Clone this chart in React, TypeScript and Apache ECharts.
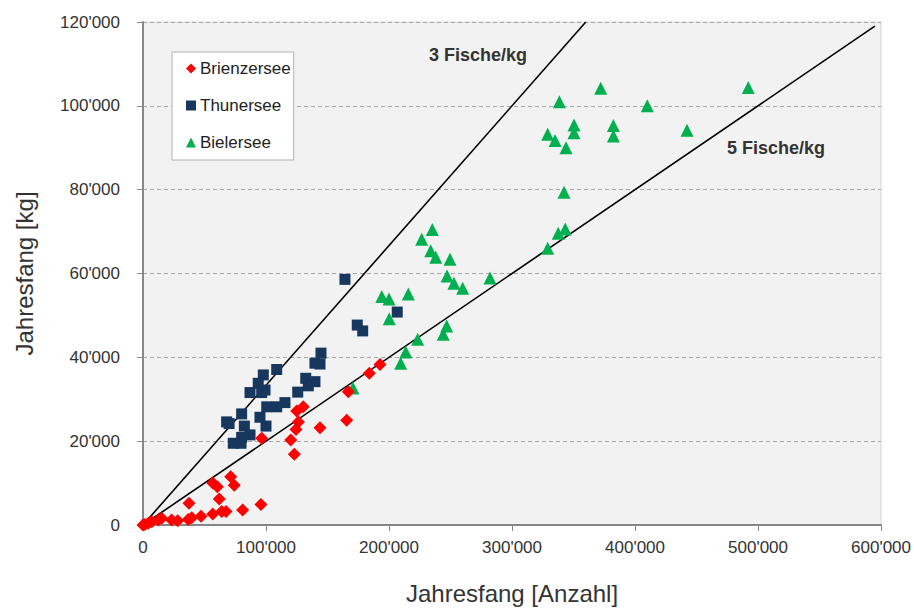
import React, { useEffect, useRef } from "react";
import * as echarts from "echarts";

const brienzersee: number[][] = [
  [96500, 20700], [125000, 27200], [130300, 28200], [126300, 24600], [124400, 22800],
  [143900, 23200], [120100, 20300], [123000, 16900], [165600, 25000], [166900, 31800],
  [184000, 36200], [192700, 38300], [71300, 11500], [56700, 10000], [60400, 9100],
  [74200, 9500], [62000, 6200], [37400, 5200], [95900, 4900], [81000, 3600],
  [67500, 3200], [64000, 3200], [56700, 2600], [47200, 2100], [39600, 1700],
  [36800, 1300], [28200, 1000], [23300, 1200], [15200, 1600], [12400, 1200],
  [7100, 800], [4300, 400], [1600, 100], [0, 0],
];

const thunersee: number[][] = [
  [144700, 41000], [139800, 38600], [143900, 38400], [108700, 37100], [97800, 35800],
  [132300, 35000], [139800, 34200], [134400, 33200], [93700, 33800], [99200, 32200],
  [87000, 31600], [96500, 31600], [125800, 31700], [115400, 29200], [108700, 28200],
  [100600, 28200], [80200, 26500], [95100, 25700], [68000, 24600], [70000, 24200],
  [82400, 23600], [100000, 23600], [87000, 21500], [80200, 20900], [73400, 19500],
  [79700, 19500], [164200, 58600], [206700, 50800], [174200, 47700], [178600, 46300],
];

const bielersee: number[][] = [
  [235200, 70500], [226600, 68200], [233900, 65400], [238000, 63900], [249600, 63400],
  [247200, 59400], [252800, 57700], [259900, 56500], [282100, 58900], [194100, 54500],
  [200000, 53900], [215700, 55100], [200200, 49200], [246900, 47500], [244100, 45500],
  [223300, 44300], [213600, 41300], [209500, 38600], [170700, 32700], [372100, 104200],
  [492100, 104400], [338500, 101000], [410000, 100000], [350400, 95400], [350400, 93600],
  [382400, 95300], [382400, 92800], [329000, 93200], [335000, 91700], [343900, 90000],
  [442300, 94200], [342300, 79400], [337600, 69600], [343300, 70600], [329000, 66000],
];

const line3: number[][] = [[0, 0], [360000, 120000]];
const line5: number[][] = [[0, 0], [595000, 119000]];

const xTicks = { min: 0, max: 600000, interval: 100000 };
const yTicks = { min: 0, max: 120000, interval: 20000 };

const fmt = (v: number) => {
  if (v === 0) return "0";
  return String(v).replace(/\B(?=(\d{3})+(?!\d))/g, "'");
};

const FONT = "'Liberation Sans', Arial, sans-serif";

export default function App() {
  const ref = useRef<HTMLDivElement>(null);
  useEffect(() => {
    if (!ref.current) return;
    const chart = echarts.init(ref.current, undefined, { renderer: "svg" });
    chart.setOption({
      animation: false,
      textStyle: { fontFamily: FONT },
      grid: {
        left: 143, right: 33, top: 22, bottom: 86,
        show: true, backgroundColor: "#f2f2f2", borderColor: "#d9d9d9", borderWidth: 1,
      },
      legend: {
        left: 172, top: 52, orient: "vertical",
        backgroundColor: "#ffffff", borderColor: "#b3b3b3", borderWidth: 1,
        padding: [8, 3, 9, 14], itemGap: 20, itemWidth: 10, itemHeight: 10,
        textStyle: { fontSize: 17, color: "#222", fontFamily: FONT, padding: [0, 0, 0, -1] },
        data: [
          { name: "Brienzersee", icon: "diamond" },
          { name: "Thunersee", icon: "rect" },
          { name: "Bielersee", icon: "triangle" },
        ],
      },
      xAxis: {
        type: "value", ...xTicks,
        name: "Jahresfang [Anzahl]", nameLocation: "middle", nameGap: 56,
        nameTextStyle: { fontSize: 24, color: "#333", fontFamily: FONT },
        axisLine: { show: true, lineStyle: { color: "#878787", width: 2 } },
        axisTick: { show: true, length: 6, lineStyle: { color: "#878787" } },
        axisLabel: { formatter: fmt, fontSize: 17, color: "#333", margin: 14, fontFamily: FONT },
        splitLine: { show: false },
      },
      yAxis: {
        type: "value", ...yTicks,
        name: "Jahresfang [kg]", nameLocation: "middle", nameGap: 107,
        nameTextStyle: { fontSize: 24, color: "#333", fontFamily: FONT },
        axisLine: { show: true, lineStyle: { color: "#878787", width: 2 } },
        axisTick: { show: true, length: 6, lineStyle: { color: "#878787" } },
        axisLabel: { formatter: fmt, fontSize: 17, color: "#333", margin: 23, fontFamily: FONT },
        splitLine: { show: true, lineStyle: { color: "#a6a6a6", type: [4, 3] } },
      },
      series: [
        {
          name: "3 Fische/kg", type: "line", data: line3, symbol: "none",
          lineStyle: { color: "#000", width: 1.6 }, silent: true, z: 1,
        },
        {
          name: "5 Fische/kg", type: "line", data: line5, symbol: "none",
          lineStyle: { color: "#000", width: 1.6 }, silent: true, z: 1,
        },
        {
          name: "Brienzersee", type: "scatter", data: brienzersee, symbol: "diamond",
          symbolSize: 13, itemStyle: { color: "#ff0000", opacity: 1 }, z: 3,
        },
        {
          name: "Thunersee", type: "scatter", data: thunersee, symbol: "rect",
          symbolSize: 11, itemStyle: { color: "#17375e", opacity: 1 }, z: 2,
        },
        {
          name: "Bielersee", type: "scatter", data: bielersee, symbol: "triangle",
          symbolSize: 13, itemStyle: { color: "#00b050", opacity: 1 }, z: 2,
        },
      ],
      graphic: [
        {
          type: "text", x: 478, y: 55,
          style: { text: "3 Fische/kg", font: `bold 18px ${FONT}`, fill: "#333", align: "center", verticalAlign: "middle" },
        },
        {
          type: "text", x: 776, y: 148,
          style: { text: "5 Fische/kg", font: `bold 18px ${FONT}`, fill: "#333", align: "center", verticalAlign: "middle" },
        },
      ],
    });
    return () => chart.dispose();
  }, []);
  return <div ref={ref} style={{ width: 914, height: 611, position: "absolute", left: 0, top: 0 }} />;
}
